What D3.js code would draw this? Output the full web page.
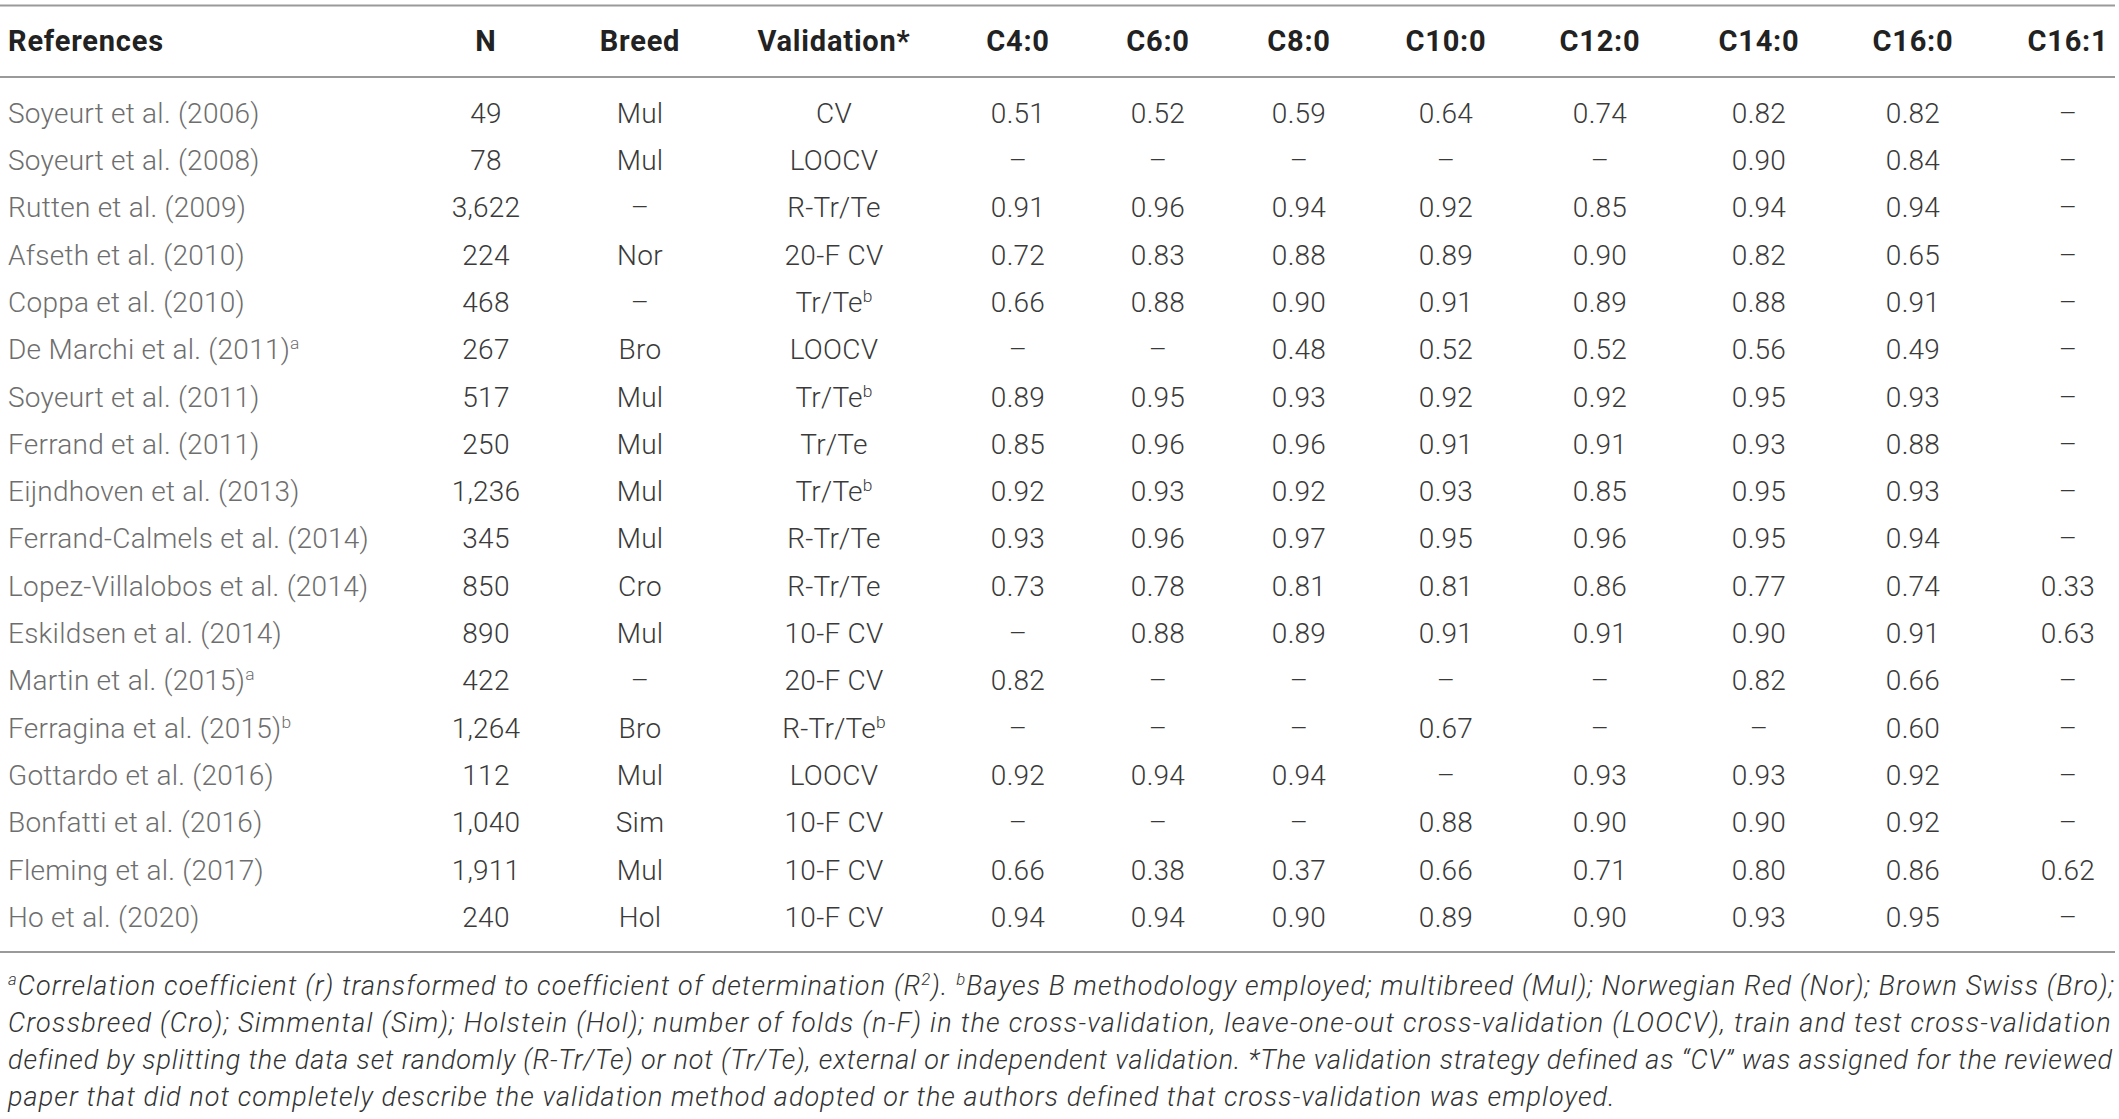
<!DOCTYPE html>
<html>
<head>
<meta charset="utf-8">
<script src="https://cdn.jsdelivr.net/npm/d3@7"></script>
<style>
  body { margin: 0; background: #fff; }
  svg text { font-family: "Roboto", "Liberation Sans", sans-serif; }
</style>
</head>
<body>
<svg id="chart"></svg>
<script>
// table data, "^" marks a superscript note
const columns = ["References", "N", "Breed", "Validation*", "C4:0", "C6:0", "C8:0", "C10:0", "C12:0", "C14:0", "C16:0", "C16:1"];

const references = [
  "Soyeurt et al. (2006)", "Soyeurt et al. (2008)", "Rutten et al. (2009)", "Afseth et al. (2010)",
  "Coppa et al. (2010)", "De Marchi et al. (2011)^a", "Soyeurt et al. (2011)", "Ferrand et al. (2011)",
  "Eijndhoven et al. (2013)", "Ferrand-Calmels et al. (2014)", "Lopez-Villalobos et al. (2014)",
  "Eskildsen et al. (2014)", "Martin et al. (2015)^a", "Ferragina et al. (2015)^b", "Gottardo et al. (2016)",
  "Bonfatti et al. (2016)", "Fleming et al. (2017)", "Ho et al. (2020)"
];
const nSamples = ["49", "78", "3,622", "224", "468", "267", "517", "250", "1,236", "345", "850", "890", "422", "1,264", "112", "1,040", "1,911", "240"];
const breeds = ["Mul", "Mul", null, "Nor", null, "Bro", "Mul", "Mul", "Mul", "Mul", "Cro", "Mul", null, "Bro", "Mul", "Sim", "Mul", "Hol"];
const validations = ["CV", "LOOCV", "R-Tr/Te", "20-F CV", "Tr/Te^b", "LOOCV", "Tr/Te^b", "Tr/Te", "Tr/Te^b", "R-Tr/Te", "R-Tr/Te", "10-F CV", "20-F CV", "R-Tr/Te^b", "LOOCV", "10-F CV", "10-F CV", "10-F CV"];

const c4_0  = [0.51, null, 0.91, 0.72, 0.66, null, 0.89, 0.85, 0.92, 0.93, 0.73, null, 0.82, null, 0.92, null, 0.66, 0.94];
const c6_0  = [0.52, null, 0.96, 0.83, 0.88, null, 0.95, 0.96, 0.93, 0.96, 0.78, 0.88, null, null, 0.94, null, 0.38, 0.94];
const c8_0  = [0.59, null, 0.94, 0.88, 0.90, 0.48, 0.93, 0.96, 0.92, 0.97, 0.81, 0.89, null, null, 0.94, null, 0.37, 0.90];
const c10_0 = [0.64, null, 0.92, 0.89, 0.91, 0.52, 0.92, 0.91, 0.93, 0.95, 0.81, 0.91, null, 0.67, null, 0.88, 0.66, 0.89];
const c12_0 = [0.74, null, 0.85, 0.90, 0.89, 0.52, 0.92, 0.91, 0.85, 0.96, 0.86, 0.91, null, null, 0.93, 0.90, 0.71, 0.90];
const c14_0 = [0.82, 0.90, 0.94, 0.82, 0.88, 0.56, 0.95, 0.93, 0.95, 0.95, 0.77, 0.90, 0.82, null, 0.93, 0.90, 0.80, 0.93];
const c16_0 = [0.82, 0.84, 0.94, 0.65, 0.91, 0.49, 0.93, 0.88, 0.93, 0.94, 0.74, 0.91, 0.66, 0.60, 0.92, 0.92, 0.86, 0.95];
const c16_1 = [null, null, null, null, null, null, null, null, null, null, 0.33, 0.63, null, null, null, null, 0.62, null];

const footnoteLines = [
  "^aCorrelation coefficient (r) transformed to coefficient of determination (R^2). ^bBayes B methodology employed; multibreed (Mul); Norwegian Red (Nor); Brown Swiss (Bro);",
  "Crossbreed (Cro); Simmental (Sim); Holstein (Hol); number of folds (n-F) in the cross-validation, leave-one-out cross-validation (LOOCV), train and test cross-validation",
  "defined by splitting the data set randomly (R-Tr/Te) or not (Tr/Te), external or independent validation. *The validation strategy defined as \u201cCV\u201d was assigned for the reviewed",
  "paper that did not completely describe the validation method adopted or the authors defined that cross-validation was employed."
];

const width = 2119;
const height = 1119;
const left = 8;
const right = 2112;
const fontSize = 28;

const svg = d3.select("#chart")
  .attr("width", width)
  .attr("height", height);

const fmt = d3.format(".2f");
const dash = "\u2013";

const cols = [references, nSamples, breeds, validations, c4_0, c6_0, c8_0, c10_0, c12_0, c14_0, c16_0, c16_1]
  .map((arr, i) => arr.map(v => v === null ? dash : (i >= 4 ? fmt(v) : v)));

const rows = references.map((_, r) => cols.map(c => c[r]));

const xScale = d3.scaleOrdinal()
  .domain(columns)
  .range([left, 486, 640, 834, 1018, 1158, 1299, 1446, 1600, 1759, 1913, 2068]);

const yScale = d3.scaleBand()
  .domain(d3.range(references.length))
  .range([89.35, 89.35 + 47.3 * references.length]);

// text with "^x" superscripts
function addRich(sel, str, supSize) {
  const parts = str.split(/\^(\w)/);
  parts.forEach((p, i) => {
    if (!p) return;
    if (i % 2 === 1) {
      sel.append("tspan").attr("font-size", supSize).attr("baseline-shift", "super").text(p);
    } else {
      sel.append("tspan").text(p);
    }
  });
}

// rules
[5.5, 77, 952].forEach(y => {
  svg.append("line")
    .attr("x1", 0).attr("x2", right + 3)
    .attr("y1", y).attr("y2", y)
    .attr("stroke", "#9a9a9a")
    .attr("stroke-width", 2);
});

// header
svg.append("g")
  .selectAll("text")
  .data(columns)
  .join("text")
  .attr("x", d => xScale(d))
  .attr("y", 41.5 + 27 * 0.36)
  .attr("text-anchor", (d, i) => i === 0 ? "start" : "middle")
  .attr("font-size", 29)
  .attr("font-weight", 700)
  .attr("letter-spacing", 0.8)
  .attr("fill", "#222")
  .text(d => d);

// body
const rowG = svg.append("g")
  .selectAll("g")
  .data(rows)
  .join("g")
  .attr("transform", (d, i) => `translate(0, ${yScale(i) + yScale.bandwidth() / 2 + 27 * 0.36})`);

rowG.selectAll("text")
  .data(d => d)
  .join("text")
  .attr("x", (d, i) => xScale(columns[i]))
  .attr("text-anchor", (d, i) => i === 0 ? "start" : "middle")
  .attr("font-size", fontSize)
  .attr("font-weight", 300)
  .attr("letter-spacing", 0.25)
  .attr("fill", (d, i) => i === 0 ? "#6e6e6e" : "#3a3a3a")
  .each(function(d) { addRich(d3.select(this), d, fontSize * 0.62); });

// footnote: each line spaced out to the width it takes in the print
const noteSize = 27;
const noteY = [986, 1023, 1060, 1097];
const lineEnds = [right, right, right, 1615];

footnoteLines.forEach((line, i) => {
  const t = svg.append("text")
    .attr("x", left)
    .attr("y", noteY[i] + 25.5 * 0.36)
    .attr("font-size", noteSize)
    .attr("font-weight", 300)
    .attr("font-style", "italic")
    .attr("fill", "#333");
  addRich(t, line, noteSize * 0.62);
  const w = t.node().getComputedTextLength();
  const chars = line.replace(/\^/g, "").length;
  t.attr("letter-spacing", (lineEnds[i] - left - w) / chars);
});
</script>
</body>
</html>
